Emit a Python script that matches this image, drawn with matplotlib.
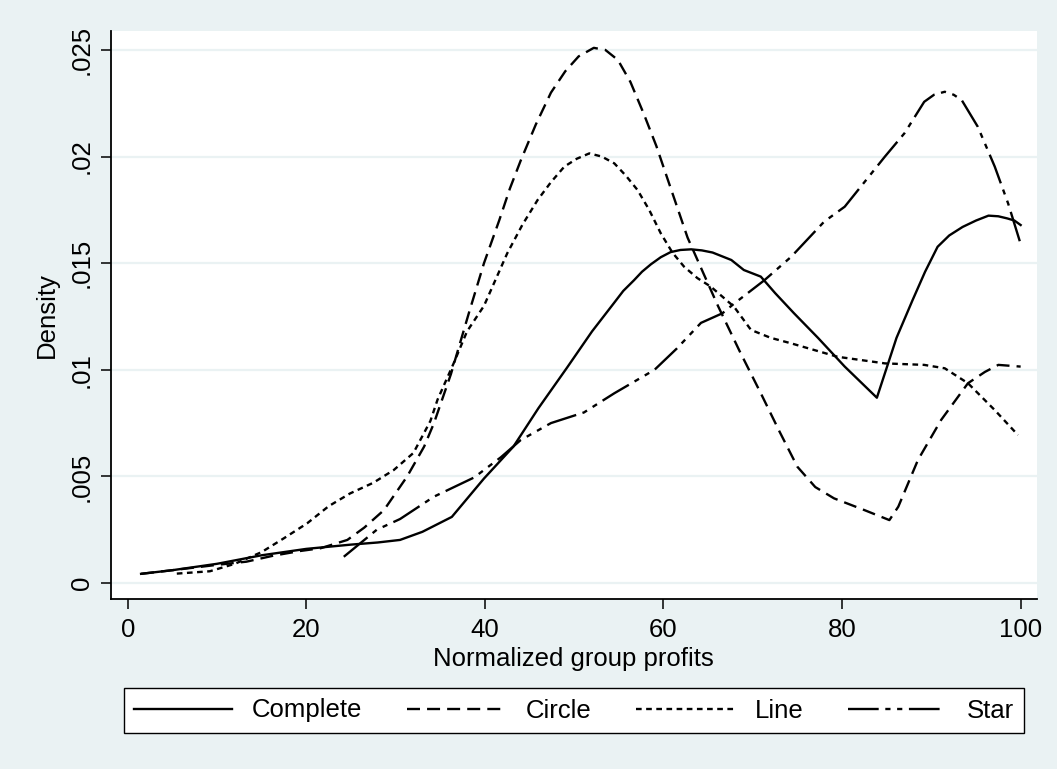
import matplotlib
matplotlib.use("Agg")
import matplotlib.pyplot as plt
from matplotlib.ticker import FixedLocator, FixedFormatter

plt.rcParams['font.family'] = ['Liberation Sans', 'DejaVu Sans']

# ---- data ----
complete_x = [1.5, 5, 10, 15, 20, 25, 28, 30.5, 33, 36.3, 39.9, 43.2, 46, 49.2, 52, 54.4,
              55.5, 56.7, 57.6, 58.6, 59.7, 60.8, 61.9, 63.1, 64.3, 65.5, 67.6, 69, 70.9,
              72.5, 74.6, 77.3, 80.3, 83.9, 86.1, 87.9, 89.3, 90.7, 92, 93.5, 95, 96.4,
              97.5, 98.5, 99.3, 100]
complete_y = [.00043, .0006, .0009, .0013, .0016, .0018, .0019, .00202, .0024, .0031, .0049,
              .0064, .0082, .0101, .0118, .0131, .0137, .0142, .0146, .01495, .01528, .01552,
              .01562, .01565, .0156, .0155, .01515, .01468, .01437, .0136, .01266, .0115,
              .01015, .00869, .0115, .01327, .0146, .01577, .0163, .0167, .0170, .01723,
              .0172, .0171, .0170, .01679]

circle_x = [1.5, 5, 10, 13.3, 16.3, 19.3, 21.6, 24.6, 26.5, 28.7, 31.3, 33.2, 34.3, 36.2,
            38.2, 39.9, 41.6, 42.8, 44, 45.7, 47.4, 49, 50.5, 52.2, 53.5, 54.9, 56.3, 57.8,
            59.2, 60.5, 62.7, 64.5, 66.1, 68.5, 70.9, 73, 75, 77, 79.1, 82.5, 85.3, 86.3,
            88.5, 91.1, 94.1, 96, 97.5, 100]
circle_y = [.00043, .0006, .00085, .0010, .00128, .0015, .00163, .00202, .0026, .00342,
            .0050, .0064, .0075, .0098, .01265, .0150, .0170, .0185, .0198, .0215, .0230,
            .0240, .0247, .0251, .0250, .02453, .0235, .0220, .0205, .0189, .0162, .0145,
            .0130, .0109, .0089, .0071, .00545, .0045, .00397, .00342, .00295, .00358,
            .00577, .00765, .00937, .0099, .01023, .01015]

line_x = [5.5, 9.2, 12, 15, 17.5, 20.1, 22.5, 24.9, 27.5, 29.8, 32, 33.9, 34.7, 36.5, 38,
          39.9, 42.5, 44.2, 45.9, 47.4, 48.9, 50.3, 51.7, 53.1, 54.5, 55.8, 57.1, 58.4,
          59.7, 61, 62.3, 63.8, 65.3, 67.9, 69.8, 72, 74.3, 79.5, 84.8, 89.2, 91.5, 94.1,
          97.1, 99.7]
line_y = [.00044, .00055, .0009, .00145, .0021, .0028, .0036, .0042, .0047, .0053, .0061,
          .0076, .0086, .0103, .0118, .0130, .01546, .0168, .01796, .0188, .01953, .0199,
          .02015, .0200, .01968, .0191, .01843, .0175, .0164, .0155, .01484, .0143, .0139,
          .01296, .01187, .0115, .01124, .01061, .0103, .01023, .01007, .00937, .00811,
          .00694]

star_x = [24.2, 27.9, 30.5, 34.3, 38.8, 41.8, 44, 47.4, 51.1, 54.5, 59, 61.5, 64.2, 66.6,
          67.9, 71.3, 74.3, 78, 80.3, 84.8, 87, 89.2, 90.3, 91.5, 92.5, 93.4, 95.2, 97.1,
          98.6, 100]
star_y = [.00123, .0025, .0030, .00405, .00495, .0059, .0067, .0075, .0080, .0089, .0100,
          .0110, .0122, .01265, .0131, .0142, .0153, .01695, .01765, .0200, .0211, .02257,
          .0229, .02304, .0229, .02265, .0214, .01953, .0178, .0159]

series_names = ["Complete", "Circle", "Line", "Star"]
x_ticks = [0, 20, 40, 60, 80, 100]
y_ticks = [0, .005, .01, .015, .02, .025]
y_tick_labels = ["0", ".005", ".01", ".015", ".02", ".025"]

# ---- styling ----
BG = '#EAF2F3'
FS = 18.5
LW = 1.7
styles = [
    dict(linestyle='-'),
    dict(linestyle=(0, (5.5, 3.0))),
    dict(linestyle=(0, (2.4, 1.9))),
    dict(linestyle=(0, (13, 2.8, 2.2, 2.8, 2.2, 2.8))),
]

fig = plt.figure(figsize=(10.57, 7.69), dpi=100, facecolor=BG)
ax = fig.add_axes([0.10501, 0.22067, 0.8758, 0.73901])
ax.set_facecolor('white')

data = [(complete_x, complete_y), (circle_x, circle_y), (line_x, line_y), (star_x, star_y)]
handles = []
for (xs, ys), name, st in zip(data, series_names, styles):
    h, = ax.plot(xs, ys, color='black', linewidth=LW, label=name,
                 solid_joinstyle='round', dash_joinstyle='round', **st)
    handles.append(h)

ax.set_xlim(-1.87, 101.8)
ax.set_ylim(-0.000765, 0.02589)

ax.xaxis.set_major_locator(FixedLocator(x_ticks))
ax.yaxis.set_major_locator(FixedLocator(y_ticks))
ax.yaxis.set_major_formatter(FixedFormatter(y_tick_labels))

for t in y_ticks:
    ax.axhline(t, color=BG, linewidth=1.6, zorder=0)

for s in ['top', 'right']:
    ax.spines[s].set_visible(False)
for s in ['left', 'bottom']:
    ax.spines[s].set_linewidth(1.3)
    ax.spines[s].set_color('black')

ax.tick_params(axis='both', direction='out', length=7.2, width=1.1, labelsize=FS, pad=6, colors='black')
for lab in ax.get_yticklabels():
    lab.set_rotation(90)
    lab.set_va('center')
    lab.set_ha('center')
ax.tick_params(axis='y', pad=14)

ax.set_ylabel("Density", fontsize=FS)
ax.yaxis.set_label_coords(-0.056, 0.5)
ax.set_xlabel("Normalized group profits", fontsize=FS)
ax.xaxis.set_label_coords(0.5, -0.084)
ax.xaxis.label.set_va('top')

leg = fig.legend(handles=handles, labels=series_names, loc='center',
                 bbox_to_anchor=(573.8 / 1057, 1 - 710.5 / 769), ncol=4,
                 fontsize=FS, handlelength=3.8, handletextpad=0.8, columnspacing=1.75,
                 borderpad=0.4, frameon=True, fancybox=False, framealpha=1,
                 edgecolor='black', facecolor='white', borderaxespad=0)
leg.get_frame().set_linewidth(1.0)

fig.savefig("out.png", dpi=100, facecolor=BG)
